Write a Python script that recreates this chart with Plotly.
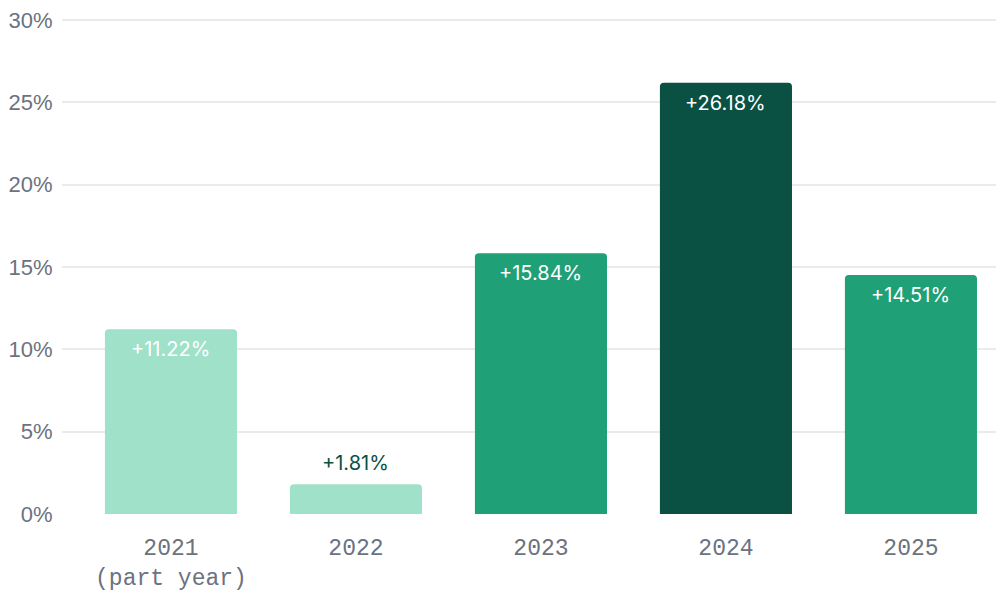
import plotly.graph_objects as go

categories = ["2021<br>(part year)", "2022", "2023", "2024", "2025"]
values = [11.22, 1.81, 15.84, 26.18, 14.51]
labels = ["+11.22%", "+1.81%", "+15.84%", "+26.18%", "+14.51%"]
bar_colors = ["#a0e1ca", "#a0e1ca", "#1fa077", "#0a5143", "#1fa077"]
label_inside = [True, False, True, True, True]
text_colors = ["#ffffff", "#0a5143", "#ffffff", "#ffffff", "#ffffff"]
y_ticks = [0, 5, 10, 15, 20, 25, 30]
y_tick_text = ["0%", "5%", "10%", "15%", "20%", "25%", "30%"]

xs = list(range(len(categories)))

fig = go.Figure(go.Bar(
    x=xs,
    y=values,
    marker=dict(color=bar_colors, line=dict(width=0)),
    width=0.714,
    hoverinfo="skip",
))

for x, v, t, inside, c in zip(xs, values, labels, label_inside, text_colors):
    fig.add_annotation(
        x=x, y=v, text=t, showarrow=False,
        xanchor="center", yanchor="middle",
        yshift=-20 if inside else 21,
        font=dict(family="Inter", size=20, color=c),
    )

fig.update_layout(
    width=996, height=592,
    margin=dict(l=54, r=0, t=7, b=86, autoexpand=False),
    plot_bgcolor="white", paper_bgcolor="white",
    barcornerradius=4,
    showlegend=False,
)
fig.update_xaxes(
    tickmode="array",
    tickvals=xs,
    ticktext=categories,
    range=[-0.589, 4.503],
    automargin=False,
    showgrid=False, zeroline=False, showline=False,
    tickfont=dict(family="Liberation Mono", size=23, color="#6b7280"),
    ticks="outside", ticklen=12, tickcolor="rgba(0,0,0,0)",
)
fig.update_yaxes(
    range=[0, 30.3],
    tickmode="array",
    tickvals=y_ticks,
    ticktext=y_tick_text,
    automargin=False,
    ticklabeloverflow="allow",
    showgrid=True, gridcolor="#ebebeb", gridwidth=2,
    zeroline=False, showline=False,
    tickfont=dict(family="Liberation Sans", size=22, color="#6b7280"),
    ticks="outside", ticklen=4, tickcolor="rgba(0,0,0,0)",
)

fig.write_html("out.html")
